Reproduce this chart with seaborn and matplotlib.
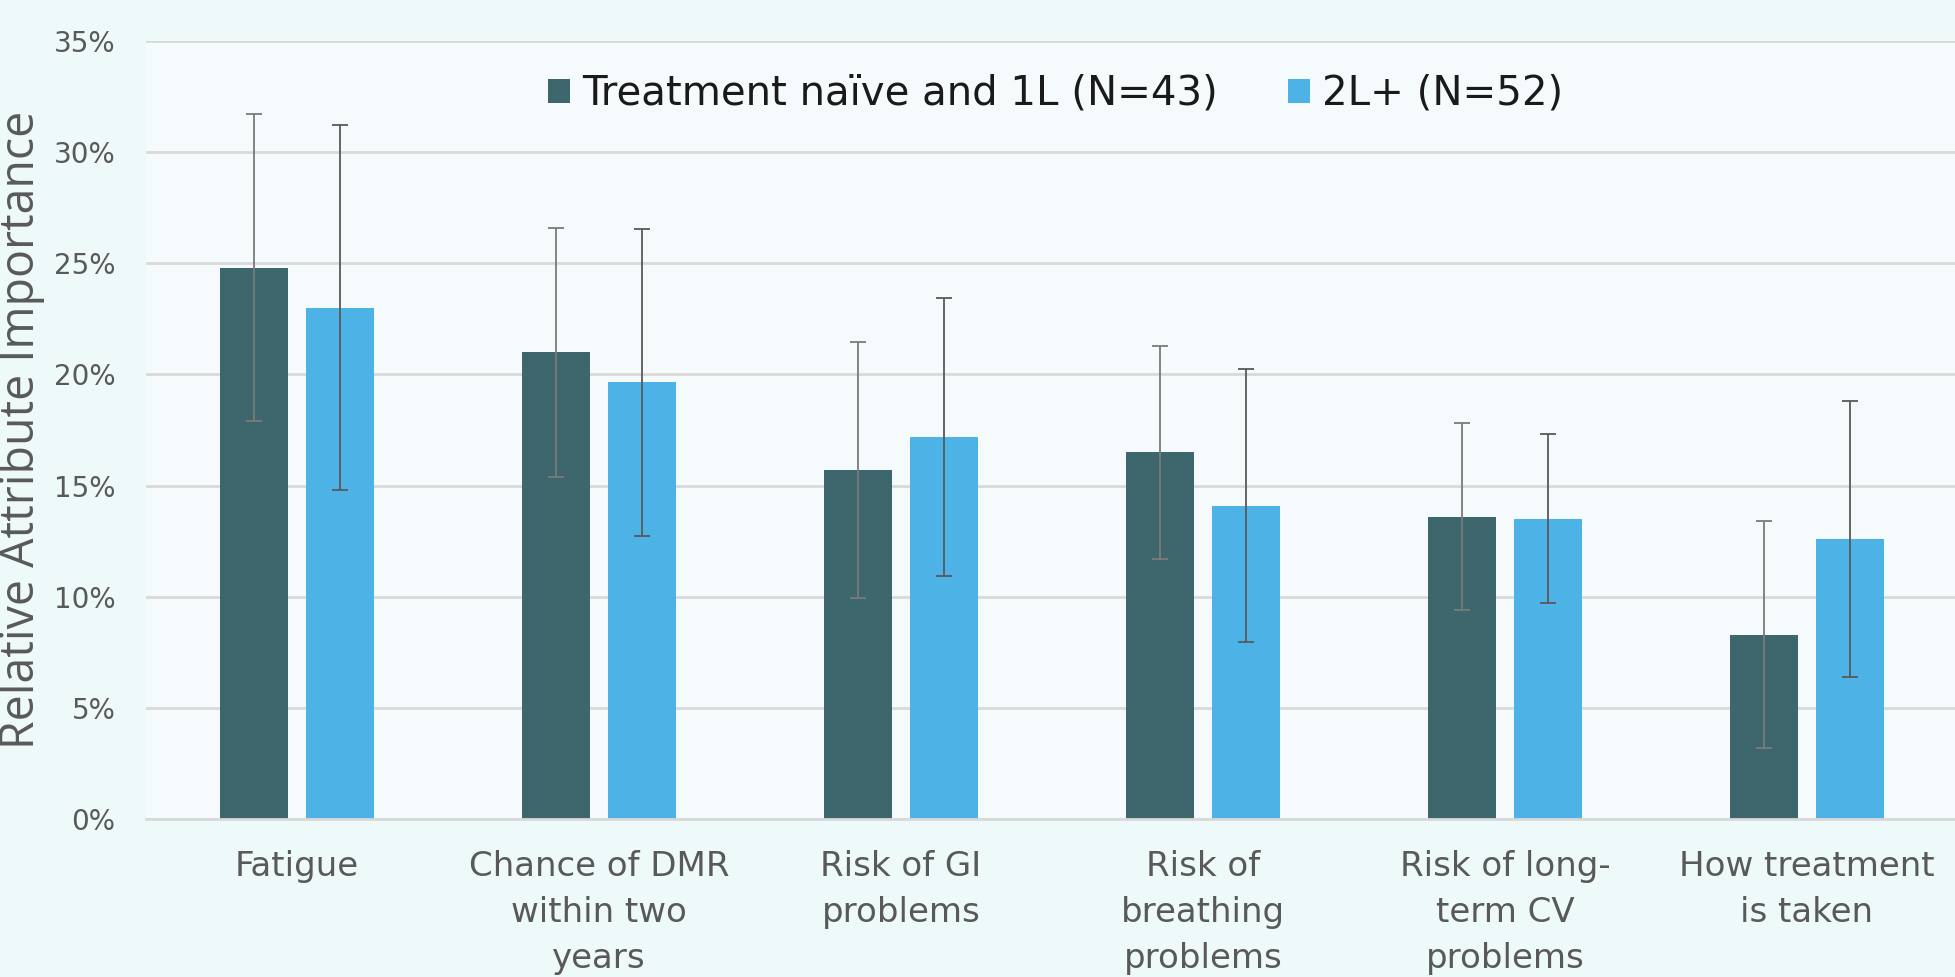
import matplotlib
matplotlib.use("Agg")
import matplotlib.pyplot as plt
import seaborn as sns
import pandas as pd
import numpy as np
from matplotlib.ticker import PercentFormatter, FixedLocator
from matplotlib.patches import Patch

# ---- data ----
categories = ["Fatigue", "Chance of DMR\nwithin two\nyears", "Risk of GI\nproblems",
              "Risk of\nbreathing\nproblems", "Risk of long-\nterm CV\nproblems",
              "How treatment\nis taken"]
groups = ["Treatment naïve and 1L (N=43)", "2L+ (N=52)"]
naive_1l = [24.8, 21.0, 15.7, 16.5, 13.6, 8.3]
naive_1l_err = [6.9, 5.6, 5.75, 4.8, 4.2, 5.1]
second_line = [23.0, 19.65, 17.2, 14.1, 13.5, 12.6]
second_line_err = [8.2, 6.9, 6.25, 6.15, 3.8, 6.2]
y_ticks = [0, 5, 10, 15, 20, 25, 30, 35]

dark = "#3D676D"
light = "#4DB3E6"
outer_bg = "#EEF9FA"
inner_bg = "#F5FBFD"
grid_c = "#D9D9D9"
text_grey = "#595959"

df = pd.DataFrame({
    "category": categories * 2,
    "group": [groups[0]] * len(categories) + [groups[1]] * len(categories),
    "value": naive_1l + second_line,
})

sns.set_theme(style="white")
plt.rcParams["font.family"] = ["DejaVu Sans"]

fig = plt.figure(figsize=(19.56, 9.77), dpi=100, facecolor=outer_bg)
ax = fig.add_axes([146 / 1956, 1 - 819 / 977, 1812 / 1956, 778 / 977])
ax.set_facecolor(inner_bg)

sns.barplot(data=df, x="category", y="value", hue="group", order=categories,
            hue_order=groups, palette=[dark, light], width=0.57, gap=0.21,
            errorbar=None, ax=ax, legend=False, saturation=1, linewidth=0)

# error bars positioned from the drawn bars
err_sets = [(naive_1l, naive_1l_err, "#7A7A7A"), (second_line, second_line_err, "#595959")]
for cont, (vals, errs, ecol) in zip(ax.containers, err_sets):
    xs = [p.get_x() + p.get_width() / 2 for p in cont.patches]
    ax.errorbar(xs, vals, yerr=errs, fmt="none", ecolor=ecol, elinewidth=1.3,
                capsize=6, capthick=1.3, zorder=5)

ax.set_ylim(0, 35)
ax.set_xlim(-0.5, len(categories) - 0.5)
ax.yaxis.set_major_locator(FixedLocator(y_ticks))
ax.yaxis.set_major_formatter(PercentFormatter(decimals=0))
ax.grid(axis="y", color=grid_c, linewidth=2)
ax.set_axisbelow(True)
for s in ["top", "right", "left"]:
    ax.spines[s].set_visible(False)
ax.spines["bottom"].set_color(grid_c)
ax.spines["bottom"].set_linewidth(2)

ax.tick_params(axis="y", length=0, pad=22, labelsize=20, labelcolor=text_grey)
ax.tick_params(axis="x", which="major", length=0, pad=22, labelsize=24.5, labelcolor=text_grey)
ax.set_xticks(np.arange(-0.5, len(categories), 1.0), minor=True)
ax.tick_params(axis="x", which="minor", length=9, width=1.5, color=grid_c, direction="out")
for lab in ax.get_xticklabels():
    lab.set_linespacing(1.5)

ax.set_xlabel("")
ax.set_ylabel("Relative Attribute Importance", fontsize=33.5, color=text_grey,
              family=["Open Sans", "DejaVu Sans"])
ax.yaxis.set_label_coords(-0.0555, 0.5)

handles = [Patch(facecolor=dark, edgecolor="none"), Patch(facecolor=light, edgecolor="none")]
ax.legend(handles, groups, loc="center", bbox_to_anchor=(0.502, 0.932), ncol=2, frameon=False,
          fontsize=29, handlelength=0.55, handleheight=0.55, handletextpad=0.3,
          columnspacing=1.75, labelcolor="#1A1A1A")

fig.savefig("out.png", dpi=100, facecolor=outer_bg)
